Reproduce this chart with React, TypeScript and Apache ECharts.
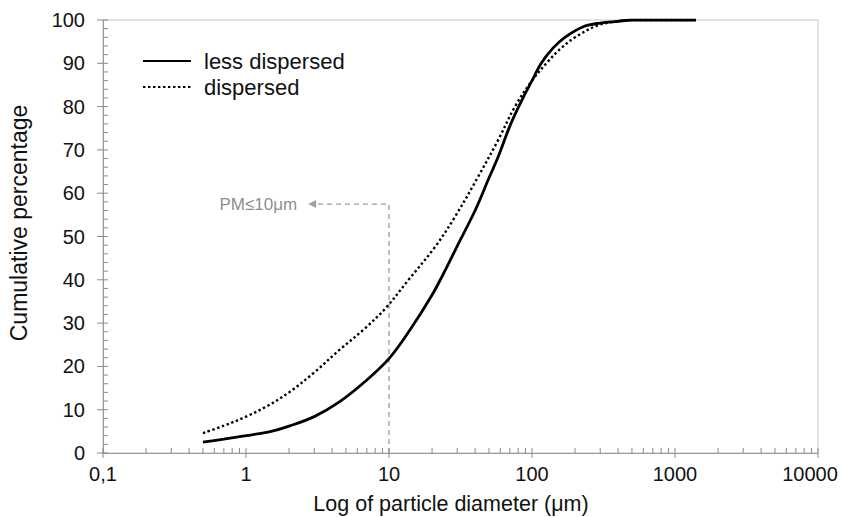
import React, { useEffect, useRef } from 'react';
import * as echarts from 'echarts';

// Particle diameter (µm) and cumulative percentage, less dispersed sample
const lessDispersedD = [0.5, 0.7, 1, 1.5, 2, 3, 4.5, 6.8, 10, 14, 20, 25, 30, 40, 50, 58, 70, 85, 100, 116, 140, 170, 230, 300, 400, 500, 700, 1000, 1400];
const lessDispersedPct = [2.5, 3.2, 4.0, 5.0, 6.2, 8.4, 11.8, 16.5, 21.8, 28.4, 36.5, 42.5, 47.8, 56, 63.5, 68.4, 75.5, 81.5, 86, 90, 93.5, 96, 98.5, 99.3, 99.7, 100, 100, 100, 100];

// Dispersed sample
const dispersedD = [0.5, 0.7, 1, 1.4, 2, 3, 4.5, 6.8, 9.5, 13.7, 21, 29, 42, 58, 76, 100, 130, 160, 200, 290, 400, 500, 700, 1000, 1400];
const dispersedPct = [4.6, 6.3, 8.4, 10.8, 14, 18.6, 23.8, 28.8, 33.5, 40, 47.6, 54.6, 63.8, 72.3, 80, 86, 90.5, 93.5, 96, 98.8, 99.7, 100, 100, 100, 100];

// Axis ticks
const xMajorTicks = [0.1, 1, 10, 100, 1000, 10000];
const xDecades = [0.1, 1, 10, 100, 1000];
const xMinorMultipliers = [2, 3, 4, 5, 6, 7, 8, 9];
const yMajorTicks = [0, 10, 20, 30, 40, 50, 60, 70, 80, 90, 100];
const yMinorTicks = [2, 4, 6, 8, 12, 14, 16, 18, 22, 24, 26, 28, 32, 34, 36, 38, 42, 44, 46, 48, 52, 54, 56, 58, 62, 64, 66, 68, 72, 74, 76, 78, 82, 84, 86, 88, 92, 94, 96, 98];

// Annotation
const pmCutoff = 10;
const pmLevel = 57.5;
const pmArrowX = 2.9;
const pmLabel = 'PM≤10μm';

const seriesNames = ['less dispersed', 'dispersed'];
const xTitle = 'Log of particle diameter (μm)';
const yTitle = 'Cumulative percentage';

const FONT = '"Liberation Sans", Arial, Helvetica, sans-serif';
const AXIS_GRAY = '#9a9a9a';
const TICK_GRAY = '#8a8a8a';

export default function App() {
  const ref = useRef<HTMLDivElement>(null);

  useEffect(() => {
    if (!ref.current) return;
    const chart = echarts.init(ref.current, undefined, { renderer: 'svg' });

    const xMinorTicks: number[] = [];
    xDecades.forEach((d) => xMinorMultipliers.forEach((m) => xMinorTicks.push(+(d * m).toPrecision(6))));

    const tickSeries = (
      data: number[][],
      kind: 'xMajor' | 'xMinor' | 'yMajor' | 'yMinor'
    ) => ({
      type: 'custom',
      silent: true,
      clip: false,
      z: 5,
      data,
      encode: { x: 0, y: 1 },
      renderItem: (_params: any, api: any) => {
        const p = api.coord([api.value(0), api.value(1)]);
        let shape;
        if (kind === 'xMajor') shape = { x1: p[0], y1: p[1] - 5, x2: p[0], y2: p[1] + 5 };
        else if (kind === 'xMinor') shape = { x1: p[0], y1: p[1] - 5, x2: p[0], y2: p[1] };
        else if (kind === 'yMajor') shape = { x1: p[0] - 6, y1: p[1], x2: p[0] + 5, y2: p[1] };
        else shape = { x1: p[0], y1: p[1], x2: p[0] + 5, y2: p[1] };
        return { type: 'line', shape, style: { stroke: TICK_GRAY, lineWidth: 1 } };
      },
    });

    const xMax = xMajorTicks[xMajorTicks.length - 1];

    const option: any = {
      animation: false,
      backgroundColor: '#ffffff',
      grid: {
        left: 103,
        right: 24,
        top: 20,
        bottom: 64,
        containLabel: false,
        outerBoundsMode: 'none',
        show: true,
        borderColor: '#c4c4c4',
        borderWidth: 1,
      },
      legend: {
        data: seriesNames,
        orient: 'vertical',
        left: 137,
        top: 45,
        itemWidth: 48,
        itemHeight: 12,
        itemGap: 4,
        itemStyle: { opacity: 0 },
        textStyle: { fontSize: 22, lineHeight: 20, fontFamily: FONT, color: '#111', padding: [0, 0, 0, 8] },
      },
      xAxis: {
        type: 'log',
        logBase: 10,
        min: xMajorTicks[0],
        max: xMax,
        splitNumber: 5,
        axisLine: { show: true, lineStyle: { color: AXIS_GRAY, width: 1 } },
        axisTick: { show: false },
        splitLine: { show: false },
        axisLabel: {
          fontSize: 20,
          fontFamily: FONT,
          color: '#111',
          margin: 11,
          formatter: (v: number) => {
            const s = String(+v.toPrecision(6)).replace('.', ',');
            return Math.abs(v - xMax) < 1e-6 ? `{last|${s}}` : s;
          },
          rich: {
            last: { fontSize: 20, fontFamily: FONT, color: '#111', padding: [0, 16, 0, 0] },
          },
        },
      },
      yAxis: {
        type: 'value',
        min: 0,
        max: 100,
        interval: 10,
        axisLine: { show: true, lineStyle: { color: AXIS_GRAY, width: 1 } },
        axisTick: { show: false },
        splitLine: { show: false },
        axisLabel: { fontSize: 20, fontFamily: FONT, color: '#111', margin: 18 },
      },
      graphic: [
        {
          type: 'text',
          x: 451,
          y: 504,
          style: {
            text: xTitle,
            font: `21.5px ${FONT}`,
            fill: '#111',
            align: 'center',
            verticalAlign: 'middle',
          },
        },
        {
          type: 'text',
          x: 19,
          y: 223,
          rotation: Math.PI / 2,
          style: {
            text: yTitle,
            font: `23px ${FONT}`,
            fill: '#111',
            align: 'center',
            verticalAlign: 'middle',
          },
        },
      ],
      series: [
        {
          name: seriesNames[0],
          type: 'line',
          data: lessDispersedD.map((d, i) => [d, lessDispersedPct[i]]),
          smooth: 0.35,
          symbol: 'none',
          z: 10,
          lineStyle: { color: '#000', width: 2.8, type: 'solid' },
          itemStyle: { color: '#000' },
        },
        {
          name: seriesNames[1],
          type: 'line',
          data: dispersedD.map((d, i) => [d, dispersedPct[i]]),
          smooth: 0.35,
          symbol: 'none',
          z: 10,
          lineStyle: { color: '#000', width: 2.4, type: [2.4, 2.6] },
          itemStyle: { color: '#000' },
        },
        {
          name: 'pm-guide',
          type: 'line',
          data: [
            [pmCutoff, 0],
            [pmCutoff, pmLevel],
            [pmArrowX * 1.07, pmLevel],
          ],
          symbol: 'none',
          silent: true,
          z: 4,
          lineStyle: { color: '#9a9a9a', width: 1.3, type: [5, 4] },
        },
        {
          name: 'pm-arrow',
          type: 'scatter',
          data: [[pmArrowX, pmLevel]],
          symbol: 'triangle',
          symbolRotate: 90,
          symbolSize: [8, 8],
          silent: true,
          z: 4,
          itemStyle: { color: '#8a8a8a' },
          label: {
            show: true,
            position: 'left',
            distance: 11,
            formatter: pmLabel,
            fontSize: 17,
            fontFamily: FONT,
            color: '#6f6f6f',
          },
        },
        tickSeries(xMajorTicks.map((v) => [v, 0]), 'xMajor'),
        tickSeries(xMinorTicks.map((v) => [v, 0]), 'xMinor'),
        tickSeries(yMajorTicks.map((v) => [0.1, v]), 'yMajor'),
        tickSeries(yMinorTicks.map((v) => [0.1, v]), 'yMinor'),
      ],
    };

    chart.setOption(option);
    return () => chart.dispose();
  }, []);

  return <div ref={ref} style={{ width: 842, height: 517, position: 'absolute', left: 0, top: 0 }} />;
}
